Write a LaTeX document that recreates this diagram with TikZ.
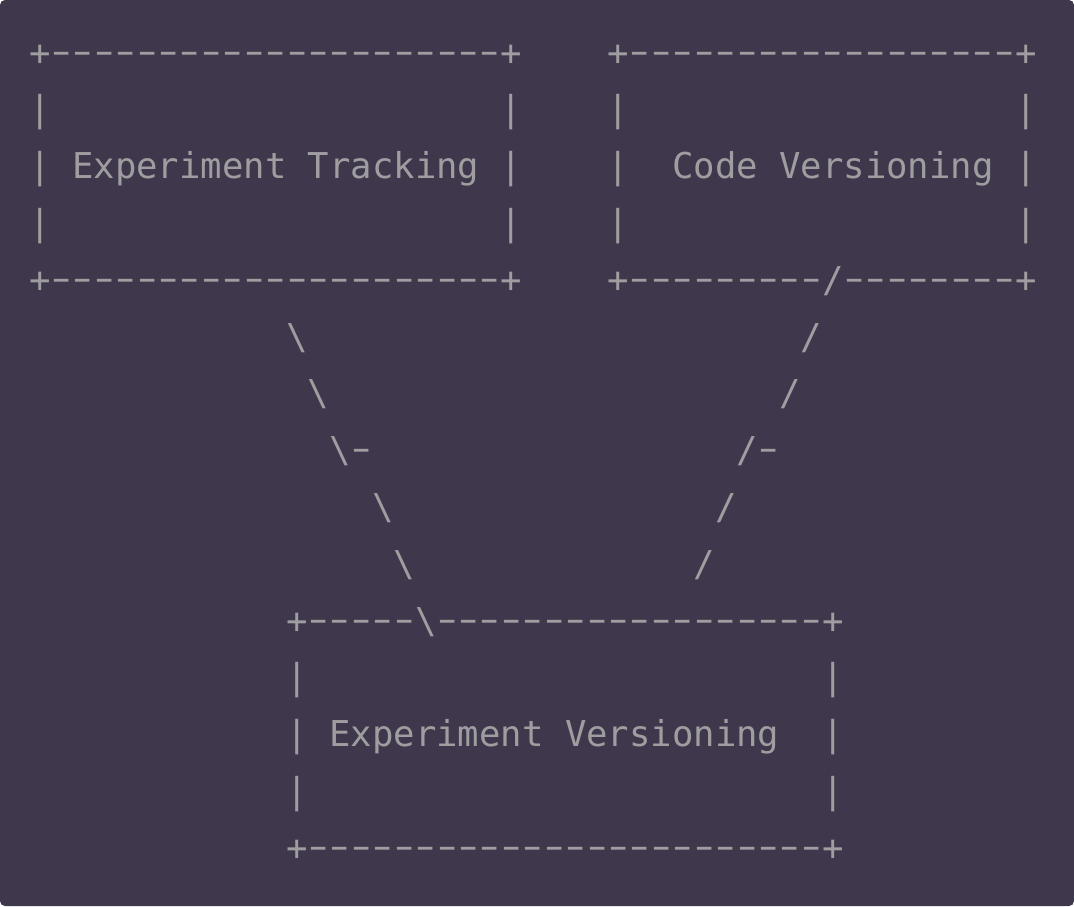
\documentclass[tikz,border=0pt]{standalone}
\usepackage{fontspec}
\usepackage{graphicx}
\newfontfamily\asciifont{DejaVu Sans Mono}
\definecolor{bgcol}{HTML}{3F374B}
\definecolor{txtcol}{HTML}{A09DA1}
\tikzset{
  asciitext/.style={text=txtcol, inner sep=0pt, outer sep=0pt, anchor=base west,
    font=\asciifont\fontsize{35.6pt}{42pt}\selectfont}
}
% a hyphen drawn as wide as the reference's dashes, one cell wide
\newcommand\hy{\makebox[0.60205em][c]{\raisebox{0.05em}{\scalebox{1.6}[1]{-}}}}
\newcommand\dashes[1]{\foreach \i in {1,...,#1}{\hy}}
% name, column, line, text
\newcommand\asc[4]{\node[asciitext] (#1) at ({29.3+#2*21.43},{-(65+(#3-1)*56.8)}) {#4};}
\begin{document}
\begin{tikzpicture}[x=1pt,y=1pt]
\useasboundingbox (0,0) rectangle (1074,-906);
\fill[bgcol, rounded corners=5pt] (0,0) rectangle (1074,-906);
% top boxes
\asc{ltop}{0}{1}{+\dashes{21}+}
\asc{rtop}{27}{1}{+\dashes{18}+}
\asc{la2}{0}{2}{|}\asc{lb2}{22}{2}{|}\asc{ra2}{27}{2}{|}\asc{rb2}{46}{2}{|}
\asc{la3}{0}{3}{|}\asc{ltxt}{2}{3}{Experiment Tracking}\asc{lb3}{22}{3}{|}
\asc{ra3}{27}{3}{|}\asc{rtxt}{30}{3}{Code Versioning}\asc{rb3}{46}{3}{|}
\asc{la4}{0}{4}{|}\asc{lb4}{22}{4}{|}\asc{ra4}{27}{4}{|}\asc{rb4}{46}{4}{|}
\asc{lbot}{0}{5}{+\dashes{21}+}
\asc{rbot}{27}{5}{+\dashes{9}/\dashes{8}+}
% diagonals
\asc{d6l}{12}{6}{\textbackslash}\asc{d6r}{36}{6}{/}
\asc{d7l}{13}{7}{\textbackslash}\asc{d7r}{35}{7}{/}
\asc{d8l}{14}{8}{\textbackslash\hy}\asc{d8r}{33}{8}{/\hy}
\asc{d9l}{16}{9}{\textbackslash}\asc{d9r}{32}{9}{/}
\asc{d10l}{17}{10}{\textbackslash}\asc{d10r}{31}{10}{/}
% bottom box
\asc{btop}{12}{11}{+\dashes{5}\textbackslash\dashes{18}+}
\asc{ba12}{12}{12}{|}\asc{bb12}{37}{12}{|}
\asc{ba13}{12}{13}{|}\asc{btxt}{14}{13}{Experiment Versioning}\asc{bb13}{37}{13}{|}
\asc{ba14}{12}{14}{|}\asc{bb14}{37}{14}{|}
\asc{bbot}{12}{15}{+\dashes{24}+}
\end{tikzpicture}
\end{document}
